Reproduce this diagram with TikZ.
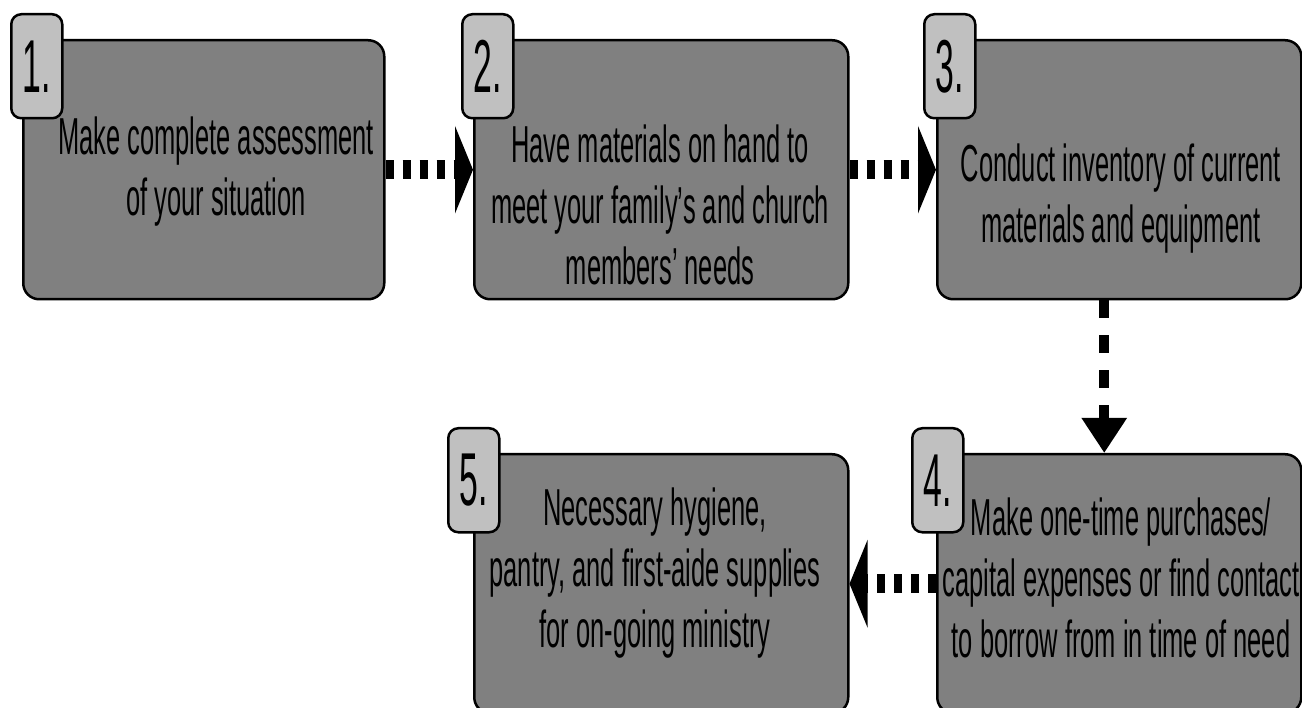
\documentclass[tikz,border=0pt]{standalone}
\usepackage{fontspec}
\setmainfont{Liberation Sans}[FakeStretch=0.49]
\newfontfamily\numfont{Liberation Sans}[FakeStretch=0.45]
\usetikzlibrary{positioning, arrows.meta}
\definecolor{boxgray}{RGB}{128,128,128}
\definecolor{badgegray}{RGB}{192,192,192}

\begin{document}
\begin{tikzpicture}[x=1pt, y=-1pt,
    stepbox/.style={draw, line width=2.5pt, fill=boxgray, rounded corners=16pt,
      anchor=north west, minimum height=259pt, inner sep=0pt},
    numbadge/.style={draw, line width=2.5pt, fill=badgegray, rounded corners=10pt,
      anchor=north west, minimum width=51pt, minimum height=104pt, inner sep=0pt,
      font=\numfont\fontsize{75}{75}\selectfont},
    steptext/.style={align=center, font=\fontsize{52}{61}\selectfont},
    flowh/.style={line width=19pt, dash pattern=on 8.5pt off 8.5pt,
      -{Triangle[length=18pt, width=87pt]}},
    flowv/.style={line width=10pt, dash pattern=on 18pt off 17pt,
      -{Triangle[length=35pt, width=43pt]}}]
    \useasboundingbox (0,0) rectangle (1302,708);
    \clip (0,0) rectangle (1302,708);
    % step boxes
    \foreach \i/\x/\y/\w in {1/22/39/361, 2/473/39/374, 3/936/39/364, 4/936/453/364, 5/473/453/374} {
      \node[stepbox, minimum width=\w pt] (box\i) at (\x,\y) {};
    }
    % connectors
    \draw[flowh] (box1) -- (box2);
    \draw[flowh] (box2) -- (box3);
    \draw[flowv] ([xshift=-15pt]box3.south) -- ([xshift=-15pt]box4.north);
    \draw[flowh] (box4) -- (box5);
    % texts
    \node[steptext] (txt1) at (216,172) {Make complete assessment\\of your situation};
    \node[steptext] (txt2) at (660,205) {Have materials on hand to\\meet your family’s and church\\members’ needs};
    \node[steptext] (txt3) at (1121,199) {Conduct inventory of current\\materials and equipment};
    \node[steptext] (txt4) at (1121,578) {Make one-time purchases/\\capital expenses or find contact\\to borrow from in time of need};
    \node[steptext] (txt5) at (655,573) {Necessary hygiene,\\pantry, and first-aide supplies\\for on-going ministry};
    % number badges
    \foreach \i/\x/\y in {1/10/13, 2/461/13, 3/923/13, 4/911/427, 5/447/427} {
      \node[numbadge] (num\i) at (\x,\y) {\i.};
    }
\end{tikzpicture}
\end{document}
